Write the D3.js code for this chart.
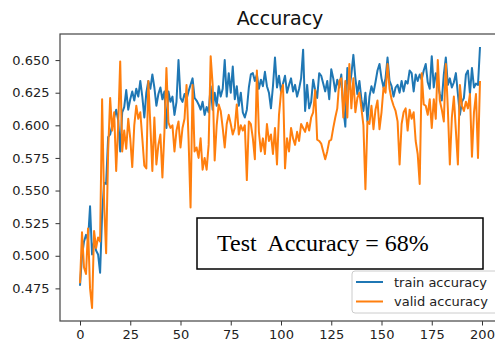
<!DOCTYPE html>
<html>
<head>
<meta charset="utf-8">
<script src="https://cdn.jsdelivr.net/npm/d3@7"></script>
<style>
  body { margin: 0; background: #fff; }
  svg { display: block; font-family: "DejaVu Sans", sans-serif; }
</style>
</head>
<body>
<svg id="chart" width="495" height="345"></svg>
<script>
// values, one per epoch
const trainAcc = [
  0.477, 0.500, 0.511, 0.516, 0.512, 0.538, 0.501, 0.511, 0.504, 0.501,
  0.487, 0.532, 0.556, 0.555, 0.591, 0.593, 0.600, 0.606, 0.612, 0.604,
  0.580, 0.610, 0.614, 0.627, 0.612, 0.620, 0.626, 0.619, 0.628, 0.622,
  0.634, 0.622, 0.606, 0.625, 0.634, 0.628, 0.639, 0.629, 0.615, 0.624,
  0.629, 0.620, 0.626, 0.598, 0.626, 0.618, 0.622, 0.608, 0.618, 0.650,
  0.621, 0.618, 0.624, 0.620, 0.626, 0.631, 0.636, 0.621, 0.619, 0.616,
  0.612, 0.618, 0.608, 0.614, 0.610, 0.630, 0.612, 0.625, 0.615, 0.630,
  0.622, 0.628, 0.650, 0.622, 0.640, 0.625, 0.645, 0.620, 0.630, 0.615,
  0.625, 0.610, 0.606, 0.612, 0.629, 0.639, 0.640, 0.634, 0.639, 0.628,
  0.635, 0.630, 0.641, 0.630, 0.625, 0.613, 0.630, 0.652, 0.629, 0.638,
  0.626, 0.632, 0.638, 0.625, 0.631, 0.636, 0.626, 0.631, 0.622, 0.628,
  0.636, 0.658, 0.611, 0.631, 0.613, 0.618, 0.635, 0.627, 0.621, 0.640,
  0.638, 0.632, 0.626, 0.634, 0.620, 0.643, 0.636, 0.626, 0.635, 0.629,
  0.639, 0.613, 0.599, 0.644, 0.628, 0.639, 0.654, 0.636, 0.624, 0.634,
  0.620, 0.611, 0.625, 0.603, 0.622, 0.630, 0.625, 0.633, 0.642, 0.647,
  0.636, 0.629, 0.636, 0.652, 0.634, 0.630, 0.622, 0.629, 0.631, 0.625,
  0.634, 0.626, 0.634, 0.632, 0.642, 0.640, 0.626, 0.639, 0.634, 0.639,
  0.635, 0.642, 0.647, 0.633, 0.628, 0.653, 0.629, 0.640, 0.632, 0.624,
  0.619, 0.639, 0.652, 0.631, 0.636, 0.629, 0.633, 0.640, 0.624, 0.608,
  0.618, 0.621, 0.639, 0.642, 0.624, 0.644, 0.629, 0.632, 0.631, 0.660
];
const validAcc = [
  0.479, 0.518, 0.491, 0.486, 0.521, 0.475, 0.460, 0.519, 0.506, 0.514,
  0.511, 0.620, 0.540, 0.502, 0.580, 0.621, 0.596, 0.610, 0.565, 0.600,
  0.649, 0.580, 0.596, 0.582, 0.605, 0.590, 0.568, 0.600, 0.615, 0.605,
  0.610, 0.590, 0.569, 0.567, 0.634, 0.600, 0.565, 0.606, 0.570, 0.585,
  0.593, 0.560, 0.595, 0.644, 0.602, 0.598, 0.600, 0.580, 0.596, 0.603,
  0.583, 0.598, 0.605, 0.631, 0.590, 0.537, 0.631, 0.580, 0.583, 0.575,
  0.590, 0.566, 0.575, 0.566, 0.585, 0.653, 0.631, 0.573, 0.600, 0.616,
  0.611, 0.598, 0.583, 0.601, 0.608, 0.601, 0.593, 0.598, 0.616, 0.593,
  0.600, 0.596, 0.600, 0.558, 0.603, 0.601, 0.590, 0.574, 0.642, 0.595,
  0.580, 0.590, 0.578, 0.601, 0.588, 0.593, 0.578, 0.598, 0.570, 0.608,
  0.625, 0.631, 0.567, 0.590, 0.580, 0.598, 0.590, 0.585, 0.595, 0.588,
  0.601, 0.598, 0.595, 0.602, 0.596, 0.606, 0.610, 0.627, 0.589, 0.588,
  0.586, 0.580, 0.574, 0.580, 0.588, 0.589, 0.598, 0.606, 0.613, 0.634,
  0.636, 0.606, 0.634, 0.606, 0.647, 0.613, 0.636, 0.610, 0.621, 0.625,
  0.613, 0.600, 0.551, 0.603, 0.601, 0.615, 0.597, 0.612, 0.619, 0.597,
  0.610, 0.629, 0.625, 0.647, 0.628, 0.620, 0.615, 0.611, 0.603, 0.570,
  0.601, 0.610, 0.613, 0.596, 0.612, 0.605, 0.610, 0.588, 0.578, 0.555,
  0.640, 0.616, 0.615, 0.608, 0.620, 0.598, 0.620, 0.605, 0.650, 0.619,
  0.612, 0.603, 0.647, 0.613, 0.570, 0.606, 0.622, 0.596, 0.570, 0.631,
  0.615, 0.611, 0.618, 0.613, 0.624, 0.576, 0.610, 0.624, 0.575, 0.634
];
const xTicks = [0, 25, 50, 75, 100, 125, 150, 175, 200];
const yTicks = [0.475, 0.500, 0.525, 0.550, 0.575, 0.600, 0.625, 0.650];
const seriesNames = ["train accuracy", "valid accuracy"];
const seriesColors = ["#1f77b4", "#ff7f0e"];
const titleText = "Accuracy";
const noteText = "Test  Accuracy = 68%";

const svg = d3.select("#chart");
const plotLeft = 60, plotTop = 34, plotRight = 500, plotBottom = 321;

const xScale = d3.scaleLinear().domain([-9.95, 208.95]).range([plotLeft, plotRight]);
const yScale = d3.scaleLinear().domain([0.45, 0.67]).range([plotBottom, plotTop]);

// Title
svg.append("text")
  .attr("x", (plotLeft + plotRight) / 2)
  .attr("y", 25)
  .attr("text-anchor", "middle")
  .style("font-size", "19px")
  .attr("fill", "#111")
  .text(titleText);

// Axes
const xAxis = svg.append("g")
  .attr("transform", "translate(0," + plotBottom + ")")
  .call(d3.axisBottom(xScale).tickValues(xTicks).tickSize(4.5).tickPadding(4));
const yAxis = svg.append("g")
  .attr("transform", "translate(" + plotLeft + ",0)")
  .call(d3.axisLeft(yScale).tickValues(yTicks).tickFormat(d3.format(".3f")).tickSize(4.5).tickPadding(6));

[xAxis, yAxis].forEach(ax => {
  ax.select(".domain").remove();
  ax.selectAll(".tick line").attr("stroke", "#333");
  ax.selectAll(".tick text")
    .attr("fill", "#222")
    .style("font-family", "DejaVu Sans, sans-serif")
    .style("font-size", "13px");
});

// Lines
const line = d3.line()
  .x((d, i) => xScale(i))
  .y(d => yScale(d));

[trainAcc, validAcc].forEach((s, k) => {
  svg.append("path")
    .datum(s)
    .attr("fill", "none")
    .attr("stroke", seriesColors[k])
    .attr("stroke-width", 2)
    .attr("stroke-linejoin", "round")
    .attr("d", line);
});

// Frame
svg.append("rect")
  .attr("x", plotLeft).attr("y", plotTop)
  .attr("width", plotRight - plotLeft).attr("height", plotBottom - plotTop)
  .attr("fill", "none")
  .attr("stroke", "#444")
  .attr("stroke-width", 1.2);

// Annotation box
svg.append("rect")
  .attr("x", 197).attr("y", 218)
  .attr("width", 286).attr("height", 51)
  .attr("fill", "#fff")
  .attr("stroke", "#000")
  .attr("stroke-width", 1.5);
svg.append("text")
  .attr("x", 217).attr("y", 251)
  .attr("xml:space", "preserve")
  .style("white-space", "pre")
  .style("font-family", "Liberation Serif, Times New Roman, serif")
  .style("font-size", "24px")
  .attr("fill", "#000")
  .text(noteText);

// Legend
const legend = svg.append("g");
legend.append("rect")
  .attr("x", 352).attr("y", 271)
  .attr("width", 160).attr("height", 42)
  .attr("rx", 3)
  .attr("fill", "#fff")
  .attr("fill-opacity", 0.8)
  .attr("stroke", "#ccc");
seriesNames.forEach((name, i) => {
  const ly = 282 + i * 19.5;
  legend.append("line")
    .attr("x1", 356).attr("x2", 383)
    .attr("y1", ly).attr("y2", ly)
    .attr("stroke", seriesColors[i])
    .attr("stroke-width", 2);
  legend.append("text")
    .attr("x", 394).attr("y", ly)
    .attr("dy", "0.35em")
    .style("font-size", "13px")
    .attr("fill", "#222")
    .text(name);
});
</script>
</body>
</html>
